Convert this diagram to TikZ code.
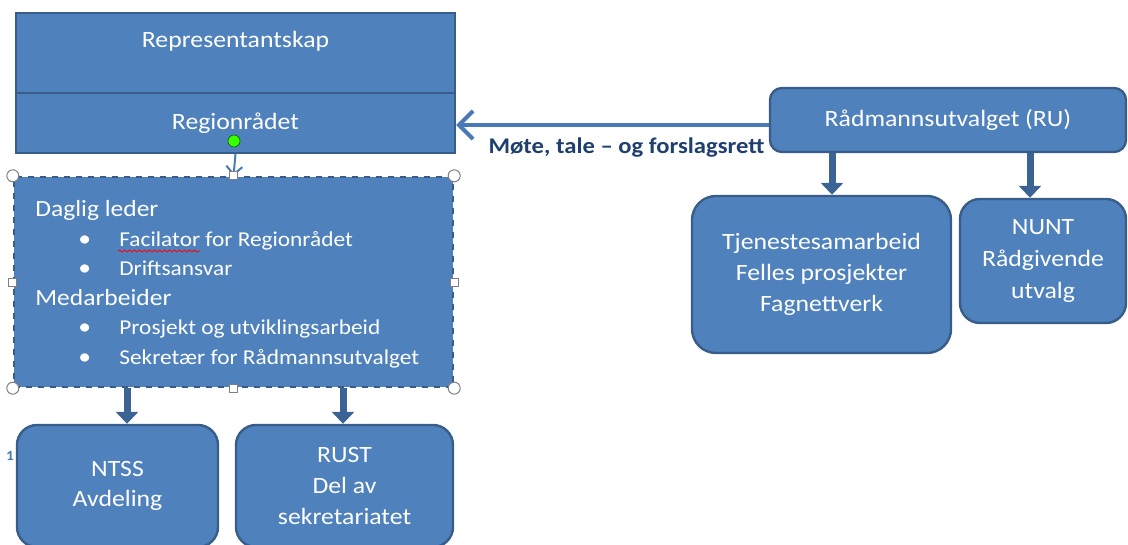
\documentclass[tikz,border=0pt]{standalone}
\usepackage{fontspec}
\setmainfont{Carlito}[FakeStretch=1.1]
\usepackage{tikz}
\usetikzlibrary{arrows.meta,decorations.pathmorphing}
\definecolor{boxblue}{HTML}{4F81BD}
\definecolor{edgeblue}{HTML}{385D8A}
\definecolor{fatblue}{HTML}{3B6494}
\definecolor{lineblue}{HTML}{4A7AB6}
\definecolor{labelblue}{HTML}{1F3F6F}

\begin{document}
\begin{tikzpicture}[x=0.5pt,y=-0.5pt,
  box/.style={draw=edgeblue,line width=1.2pt,fill=boxblue,text=white,
    inner sep=0pt,font=\fontsize{11.7}{15.4}\selectfont,align=center},
  roundbox/.style={box,rounded corners=10pt},
  fat/.style={draw=fatblue,line width=3.5pt,-{Triangle[length=6pt,width=11pt]}},
  handle/.style={draw=gray,fill=white,line width=0.5pt}]
\useasboundingbox (0,0) rectangle (1128,545);
\clip (0,0) rectangle (1128,545);
% Top boxes
\node[box,minimum width=219.5pt,minimum height=40pt] (rep) at (235.5,53) {};
\node[font=\fontsize{11.7}{15}\selectfont,text=white] at (235.5,41) {Representantskap};
\node[box,minimum width=219.5pt,minimum height=30pt] (reg) at (235.5,123) {Regionrådet};
% Daglig leder box
\node[box,dashed,minimum width=219.5pt,minimum height=105pt] (leder) at (233.5,282) {};
\node[anchor=north west,align=left,text=white,inner sep=0pt,
  font=\fontsize{11.6}{14.8}\selectfont] (ledertxt) at (35,200)
  {Daglig leder\\
   \hspace*{21.5pt}\makebox[20.5pt][l]{\textbullet}{\fontsize{10.6}{14.8}\selectfont Facilator for Regionrådet}\\
   \hspace*{21.5pt}\makebox[20.5pt][l]{\textbullet}{\fontsize{10.6}{14.8}\selectfont Driftsansvar}\\
   Medarbeider\\
   \hspace*{21.5pt}\makebox[20.5pt][l]{\textbullet}{\fontsize{10.6}{14.8}\selectfont Prosjekt og utviklingsarbeid}\\
   \hspace*{21.5pt}\makebox[20.5pt][l]{\textbullet}{\fontsize{10.6}{14.8}\selectfont Sekretær for Rådmannsutvalget}};
% Spelling mark
\draw[red,line width=0.4pt,decorate,decoration={snake,amplitude=0.5pt,segment length=2.5pt}]
  (118,251) -- (200,251);
% Lower boxes
\node[roundbox,minimum width=100.5pt,minimum height=61pt] (ntss) at (117.5,486) {NTSS\\Avdeling};
\node[roundbox,minimum width=108.5pt,minimum height=61pt] (rust) at (344.5,486) {RUST\\Del av\\sekretariatet};
\node[text=lineblue,font=\fontsize{7}{8}\selectfont\bfseries] (one) at (10,456) {1};
% Right boxes
\node[roundbox,rounded corners=6pt,minimum width=178pt,minimum height=32pt] (ru) at (948,120) {Rådmannsutvalget (RU)};
\node[roundbox,rounded corners=12pt,minimum width=129.5pt,minimum height=78.5pt] (tje) at (821.5,274.5)
  {Tjenestesamarbeid\\Felles prosjekter\\Fagnettverk};
\node[roundbox,minimum width=83pt,minimum height=62pt,font=\fontsize{11.7}{15.8}\selectfont] (nunt) at (1043,261)
  {NUNT\\Rådgivende\\utvalg};
% Arrows
\draw[lineblue,line width=1pt,-{Straight Barb[length=4pt,width=8pt]}] (reg.south) -- (leder.north);
\draw[lineblue,line width=2pt,-{Straight Barb[length=7pt,width=14pt]}] (ru.west |- 0,125) -- (reg.east |- 0,125)
  node[pos=0.5,below=2pt,xshift=7pt,text=labelblue,font=\fontsize{11.2}{13}\selectfont\bfseries] (lbl) {Møte, tale -- og forslagsrett};
\draw[fat] (leder.south -| 127,0) -- (ntss.north -| 127,0);
\draw[fat] (leder.south -| 343,0) -- (rust.north -| 343,0);
\draw[fat] (ru.south -| 832,0) -- (tje.north -| 832,0);
\draw[fat] (ru.south -| 1030,0) -- (nunt.north -| 1030,0);
% Green dot
\fill[green!70!lime,draw=green!40!black,line width=0.3pt] (234,141) circle (3pt);
% Selection handles
\foreach \p in {(leder.north west),(leder.north east),(leder.south west),(leder.south east)}
  \draw[handle] \p circle (3pt);
\foreach \p in {(leder.north),(leder.south),(leder.west),(leder.east)}
  \draw[handle] \p ++(-4,-4) rectangle ++(8,8);
\end{tikzpicture}
\end{document}
